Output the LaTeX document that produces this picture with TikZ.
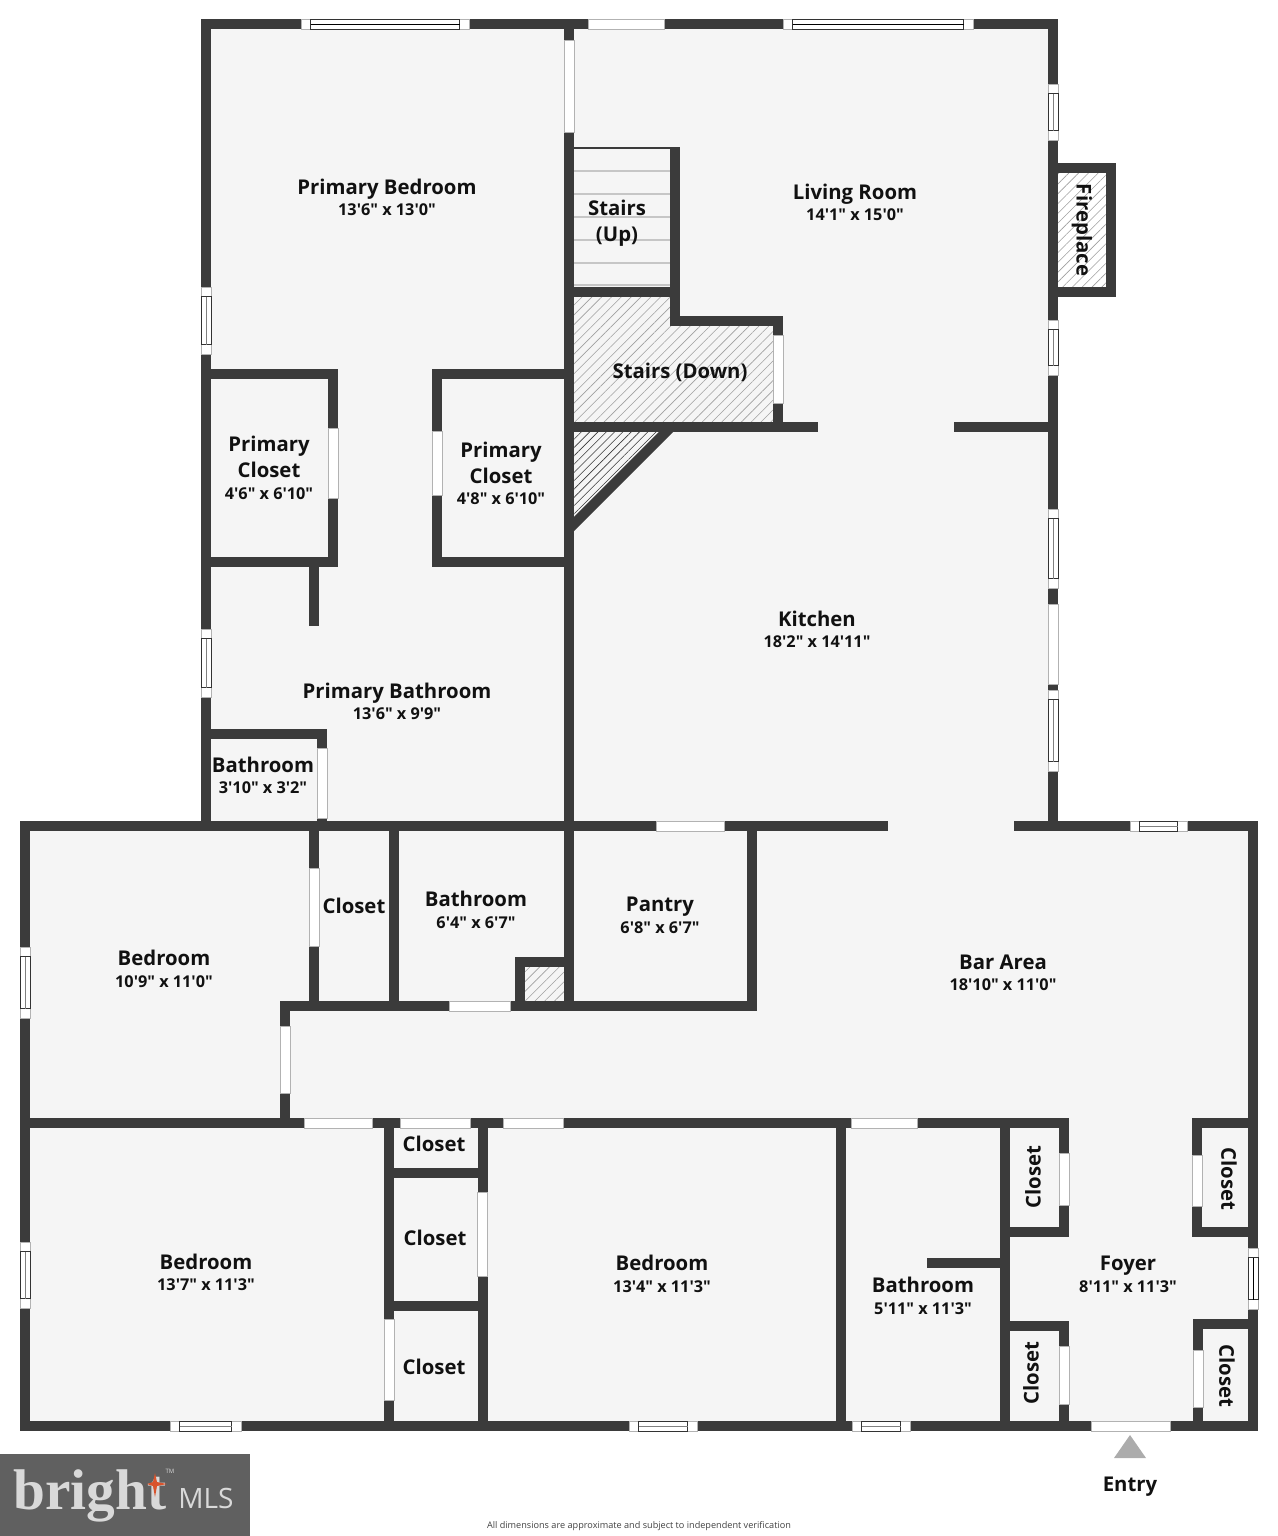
\documentclass[tikz,border=0pt]{standalone}
\usepackage{fontspec}
\setmainfont{Open Sans}[Ligatures=TeXOff]
\usetikzlibrary{patterns.meta}
\definecolor{wallc}{HTML}{3B3B3B}
\definecolor{floorc}{HTML}{F5F5F5}
\definecolor{textc}{HTML}{111111}
\definecolor{starc}{HTML}{D9532C}
\tikzset{
    wall/.style={draw=wallc, line width=7.5pt, line cap=rect, line join=miter},
    opening/.style={draw=gray!60, line width=0.5pt, fill=white},
    pane/.style={draw=gray!40!black, line width=0.4pt},
    hatchlight/.style={pattern={Lines[angle=45,distance=5.2pt,line width=0.45pt]}, pattern color=gray!75},
    hatchdark/.style={pattern={Lines[angle=45,distance=4.4pt,line width=0.45pt]}, pattern color=gray!45!black},
    roomname/.style={font=\bfseries\fontsize{15.25}{19.5}\selectfont, text=textc, align=center, inner sep=0pt},
    roomsize/.style={font=\bfseries\fontsize{12.2}{14}\selectfont, text=textc, inner sep=0pt},
}
\begin{document}
\begin{tikzpicture}[x=0.75pt,y=-0.75pt]
    \useasboundingbox (0,0) rectangle (1278,1536);

    % Suelo
    \fill[floorc] (206,24) -- (1053,24) -- (1053,826) -- (1253,826) -- (1253,1426)
        -- (25,1426) -- (25,826) -- (206,826) -- cycle;

    % Zonas rayadas
    \fill[white] (1053,168) rectangle (1111,292);
    \fill[hatchlight] (1058,172) rectangle (1106,288);
    \fill[hatchlight] (574,297) -- (675,297) -- (675,326) -- (773,326) -- (773,422) -- (574,422) -- cycle;
    \fill[hatchlight] (524,967) rectangle (564,1002);
    \fill[hatchdark] (574,432) -- (662,432) -- (574,520) -- cycle;

    % Escalera
    \foreach \y in {171,194,217,240,263,285} {
        \draw[gray!45, line width=0.8pt] (574,\y) -- (670,\y);
    }
    \draw[wallc, line width=1.5pt] (569,148) -- (675,148);

    % Muros exteriores
    \draw[wall] (206,826) -- (206,24) -- (1053,24) -- (1053,826) -- (1019,826);
    \draw[wall] (883,826) -- (25,826) -- (25,1426) -- (1253,1426) -- (1253,826) -- (1053,826);
    \draw[wall] (1053,168) -- (1111,168) -- (1111,292) -- (1053,292);

    % Muros de la parte alta
    \draw[wall] (569,24) -- (569,1006);
    \draw[wall] (675,152) -- (675,321) -- (778,321) -- (778,427);
    \draw[wall] (569,292) -- (675,292);
    \draw[wall] (569,427) -- (813,427);
    \draw[wall] (959,427) -- (1053,427);
    \draw[wall, line cap=butt] (671,427) -- (569,529);
    \draw[wall] (206,374) -- (333,374) -- (333,562) -- (206,562);
    \draw[wall] (569,374) -- (437,374) -- (437,562) -- (569,562);
    \draw[wall] (314,562) -- (314,621);
    \draw[wall] (206,734) -- (322,734) -- (322,826);

    % Muros de la parte media
    \draw[wall] (314,826) -- (314,1006);
    \draw[wall] (394,826) -- (394,1006);
    \draw[wall] (285,1123) -- (285,1006) -- (752,1006) -- (752,826);
    \draw[wall] (569,962) -- (520,962) -- (520,1006);

    % Muros de la parte baja
    \draw[wall] (25,1123) -- (1064,1123) -- (1064,1232) -- (1005,1232);
    \draw[wall] (389,1123) -- (389,1426);
    \draw[wall] (482.5,1123) -- (482.5,1426);
    \draw[wall] (389,1173) -- (482.5,1173);
    \draw[wall] (389,1306) -- (482.5,1306);
    \draw[wall] (841,1123) -- (841,1426);
    \draw[wall] (1005,1123) -- (1005,1426);
    \draw[wall] (932,1263) -- (1005,1263);
    \draw[wall] (1005,1326) -- (1064,1326) -- (1064,1426);
    \draw[wall] (1253,1123) -- (1197,1123) -- (1197,1232) -- (1253,1232);
    \draw[wall] (1253,1324) -- (1198,1324) -- (1198,1426);

    % Puertas (horizontales)
    \foreach \xa/\xb/\y in {588/664/24, 656/724/826, 449/510/1006, 304/372/1123, 400/470/1123,
                            503/563/1123, 851/917/1123, 1091/1170/1426} {
        \draw[opening] (\xa,\y-5) rectangle (\xb,\y+5);
    }
    % Puertas (verticales)
    \foreach \x/\ya/\yb in {569/40/132, 778/335/403, 1053/604/684, 333/428/498, 437/431/495,
                            322/748/818, 314/868/946, 285/1026/1093, 482.5/1192/1276, 389/1319/1400,
                            1064/1153/1205, 1197/1155/1206, 1064/1346/1404, 1198/1350/1407} {
        \draw[opening] (\x-5,\ya) rectangle (\x+5,\yb);
    }
    % Ventanas (horizontales)
    \foreach \xa/\xb/\y/\c in {301/469/24/black, 783/973/24/black, 1130/1187/826/gray, 170/241/1426/gray,
                               629/697/1426/gray, 852/910/1426/gray} {
        \draw[opening] (\xa,\y-5) rectangle (\xb,\y+5);
        \draw[pane] (\xa+9.5,\y-5) rectangle (\xb-9.5,\y+5);
        \draw[\c, line width=0.5pt] (\xa+9.5,\y) -- (\xb-9.5,\y);
    }
    % Ventanas (verticales)
    \foreach \x/\ya/\yb/\c in {1053/84/140/gray, 1053/320/375/gray, 1053/509/588/gray, 1053/690/771/gray,
                               206/287/354/gray, 206/629/697/gray, 25/947/1018/gray, 25/1242/1308/gray,
                               1253/1248/1309/black} {
        \draw[opening] (\x-5,\ya) rectangle (\x+5,\yb);
        \draw[pane] (\x-5,\ya+9.5) rectangle (\x+5,\yb-9.5);
        \draw[\c, line width=0.5pt] (\x,\ya+9.5) -- (\x,\yb-9.5);
    }

    % Habitaciones
    \node[roomname] (primarybedroom) at (387,189) {Primary Bedroom};
    \node[roomsize] (primarybedroomsize) at (387,210) {13'6" x 13'0"};
    \node[roomname] (livingroom) at (855,194) {Living Room};
    \node[roomsize] (livingroomsize) at (855,215) {14'1" x 15'0"};
    \node[roomname] (stairsup) at (617,223) {Stairs\\(Up)};
    \node[roomname, rotate=-90] (fireplace) at (1082,230) {Fireplace};
    \node[roomname] (stairsdown) at (680,372) {Stairs (Down)};
    \node[roomname] (closeta) at (269,457) {Primary\\Closet};
    \node[roomsize] (closetasize) at (269,494) {4'6" x 6'10"};
    \node[roomname] (closetb) at (501,463) {Primary\\Closet};
    \node[roomsize] (closetbsize) at (501,499) {4'8" x 6'10"};
    \node[roomname] (kitchen) at (817,619) {Kitchen};
    \node[roomsize] (kitchensize) at (817,642) {18'2" x 14'11"};
    \node[roomname] (primarybathroom) at (397,693) {Primary Bathroom};
    \node[roomsize] (primarybathroomsize) at (397,714) {13'6" x 9'9"};
    \node[roomname] (bathrooma) at (263,765) {Bathroom};
    \node[roomsize] (bathroomasize) at (263,788) {3'10" x 3'2"};
    \node[roomname] (bedrooma) at (164,958) {Bedroom};
    \node[roomsize] (bedroomasize) at (164,982) {10'9" x 11'0"};
    \node[roomname] (closetc) at (354,906) {Closet};
    \node[roomname] (bathroomb) at (476,899) {Bathroom};
    \node[roomsize] (bathroombsize) at (476,923) {6'4" x 6'7"};
    \node[roomname] (pantry) at (660,907) {Pantry};
    \node[roomsize] (pantrysize) at (660,928) {6'8" x 6'7"};
    \node[roomname] (bararea) at (1003,962) {Bar Area};
    \node[roomsize] (barareasize) at (1003,985) {18'10" x 11'0"};
    \node[roomname] (bedroomb) at (206,1262) {Bedroom};
    \node[roomsize] (bedroombsize) at (206,1285) {13'7" x 11'3"};
    \node[roomname] (closetd) at (434,1144) {Closet};
    \node[roomname] (closete) at (435,1238) {Closet};
    \node[roomname] (closetf) at (434,1367) {Closet};
    \node[roomname] (bedroomc) at (662,1263) {Bedroom};
    \node[roomsize] (bedroomcsize) at (662,1287) {13'4" x 11'3"};
    \node[roomname] (bathroomc) at (923,1285) {Bathroom};
    \node[roomsize] (bathroomcsize) at (923,1309) {5'11" x 11'3"};
    \node[roomname] (foyer) at (1128,1266) {Foyer};
    \node[roomsize] (foyersize) at (1128,1287) {8'11" x 11'3"};
    \node[roomname, rotate=90] (closetg) at (1033,1177) {Closet};
    \node[roomname, rotate=-90] (closeth) at (1229,1179) {Closet};
    \node[roomname, rotate=90] (closeti) at (1031,1373) {Closet};
    \node[roomname, rotate=-90] (closetj) at (1227,1376) {Closet};

    % Entrada
    \fill[gray!65] (1130,1435) -- (1146,1458) -- (1114,1458) -- cycle;
    \node[roomname] (entry) at (1130,1487) {Entry};

    % Logotipo y nota
    \fill[gray!75!black] (0,1454) rectangle (250,1536);
    \node[text=gray!30, inner sep=0pt] (brightlogo) at (90,1496)
        {\setmainfont{Liberation Serif}\fontsize{43}{43}\selectfont\bfseries bright};
    \fill[starc] (155,1473) -- (157,1482) -- (167,1484) -- (157,1486) -- (155,1497)
        -- (153,1486) -- (147,1484) -- (153,1482) -- cycle;
    \node[font=\fontsize{4.5}{5}\selectfont, text=gray!30, inner sep=0pt] (brighttm) at (170,1471) {TM};
    \node[font=\fontsize{21}{21}\selectfont, text=gray!30, inner sep=0pt] (mlslogo) at (206,1498) {MLS};
    \node[font=\fontsize{6.85}{8}\selectfont, text=textc!80, inner sep=0pt] (note) at (639,1526)
        {All dimensions are approximate and subject to independent verification};
\end{tikzpicture}
\end{document}
